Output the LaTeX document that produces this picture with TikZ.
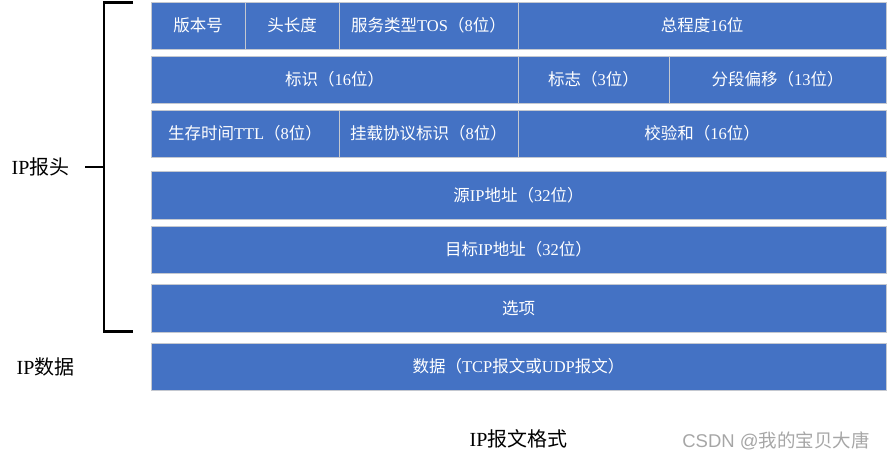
\documentclass[tikz,border=0pt]{standalone}
\usepackage{fontspec}
\setmainfont{Liberation Serif}
\newfontfamily\cjk{Noto Sans CJK SC}
\newfontfamily\wmfont{Liberation Sans}
\definecolor{boxblue}{HTML}{4472C4}
\definecolor{boxline}{HTML}{C4C8D0}
\definecolor{wmgray}{HTML}{A6A6A6}
\tikzset{
  cellbox/.style={draw=boxline, line width=1pt, fill=boxblue, text=white,
    inner sep=0pt, outer sep=0pt, font=\fontsize{16.5}{19}\selectfont},
  sidelabel/.style={inner sep=0pt, font=\fontsize{20}{23}\selectfont},
  bracketline/.style={line width=2.6pt, black}
}
\newcommand{\cellat}[6]{% name, x1, x2, y1, y2, text
  \node[cellbox, minimum width=#3pt-#2pt, minimum height=#5pt-#4pt]
    (#1) at ({(#2+#3)/2}, {(#4+#5)/2}) {#6};}
\begin{document}
\begin{tikzpicture}[x=1pt, y=-1pt]
\useasboundingbox (0,0) rectangle (887,461);
% row 1
\cellat{ver}{151}{245}{2}{49}{\cjk 版本号}
\cellat{hlen}{245}{339}{2}{49}{\cjk 头长度}
\cellat{tos}{339}{518}{2}{49}{{\cjk 服务类型}TOS{\cjk （}8{\cjk 位）}}
\cellat{tot}{518}{886}{2}{49}{{\cjk 总程度}16{\cjk 位}}
% row 2
\cellat{ident}{151}{518}{56}{103}{{\cjk 标识（}16{\cjk 位）}}
\cellat{flag}{518}{669}{56}{103}{{\cjk 标志（}3{\cjk 位）}}
\cellat{frag}{669}{886}{56}{103}{{\cjk 分段偏移（}13{\cjk 位）}}
% row 3
\cellat{ttl}{151}{339}{110}{157}{{\cjk 生存时间}TTL{\cjk （}8{\cjk 位）}}
\cellat{proto}{339}{518}{110}{157}{{\cjk 挂载协议标识（}8{\cjk 位）}}
\cellat{csum}{518}{886}{110}{157}{{\cjk 校验和（}16{\cjk 位）}}
% rows 4-7
\cellat{src}{151}{886}{171}{219}{{\cjk 源}IP{\cjk 地址（}32{\cjk 位）}}
\cellat{dst}{151}{886}{226}{273}{{\cjk 目标}IP{\cjk 地址（}32{\cjk 位）}}
\cellat{opt}{151}{886}{284}{332}{\cjk 选项}
\cellat{data}{151}{886}{343}{390}{{\cjk 数据（}TCP{\cjk 报文或}UDP{\cjk 报文）}}
% bracket
\coordinate (btop) at (133,2.5);
\coordinate (bbot) at (133,331.5);
\coordinate (bmid) at (104,167);
\coordinate (btick) at (85,167);
\draw[bracketline] (btop) -- (104,2.5) -- (104,331.5) -- (bbot);
\draw[bracketline] (btick) -- (bmid);
% labels
\node[sidelabel] (hdr) at (40.5,167) {IP{\cjk 报头}};
\node[sidelabel] (dlab) at (45.5,367) {IP{\cjk 数据}};
\node[sidelabel] (cap) at (518.5,439) {IP{\cjk 报文格式}};
\node[inner sep=0pt, text=wmgray, font=\fontsize{18.5}{21}\selectfont] (wm) at (776,441)
  {\wmfont CSDN @{\cjk 我的宝贝大唐}};
\end{tikzpicture}
\end{document}
